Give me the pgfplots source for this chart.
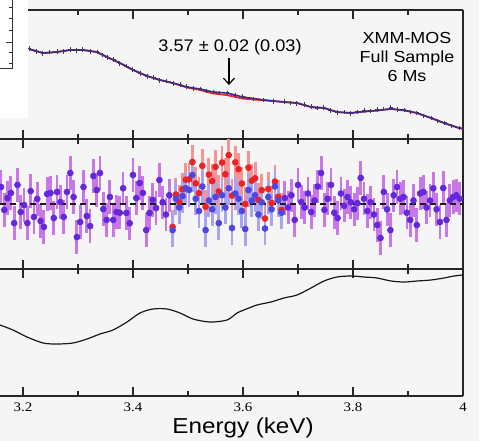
\documentclass[border=0pt]{standalone}
\usepackage{fontspec}
\setmainfont{Liberation Sans}
\newfontfamily\tickfont{Liberation Serif}
\usepackage{graphicx}
\usepackage{pgfplots}
\pgfplotsset{compat=1.18}
\usepackage{pgfplotstable}
\usetikzlibrary{arrows.meta}

\definecolor{bgcol}{HTML}{F6F5F5}
\definecolor{modblue}{HTML}{3A22A8}
\definecolor{modred}{HTML}{F0282A}
\definecolor{ptpur}{HTML}{6428DC}
\definecolor{barpur}{HTML}{C878E6}
\definecolor{ptred}{HTML}{EE2222}
\definecolor{barred}{HTML}{F49494}
\definecolor{ptblue}{HTML}{5046E0}
\definecolor{barblue}{HTML}{A8A4EE}

\newcommand{\sx}[1]{\scalebox{1.12}[1]{#1}}

% spectrum (counts/s/keV, arbitrary scale)
\pgfplotstableread{
x y
3.211 1.449
3.224 1.432
3.236 1.421
3.249 1.428
3.262 1.433
3.274 1.432
3.286 1.444
3.297 1.437
3.309 1.443
3.322 1.433
3.335 1.431
3.344 1.413
3.353 1.399
3.365 1.387
3.376 1.364
3.388 1.350
3.400 1.331
3.413 1.308
3.426 1.291
3.437 1.285
3.449 1.268
3.461 1.265
3.473 1.252
3.486 1.245
3.498 1.234
3.510 1.224
3.522 1.222
3.534 1.209
3.546 1.205
3.558 1.198
3.571 1.199
3.586 1.184
3.600 1.177
3.619 1.164
3.638 1.159
3.656 1.150
3.675 1.149
3.686 1.142
3.698 1.138
3.711 1.132
3.724 1.121
3.735 1.113
3.747 1.116
3.759 1.100
3.771 1.088
3.784 1.089
3.796 1.083
3.808 1.092
3.820 1.098
3.832 1.097
3.844 1.104
3.856 1.106
3.869 1.115
3.881 1.105
3.893 1.102
3.905 1.092
3.916 1.086
3.929 1.069
3.942 1.058
3.954 1.040
3.966 1.029
3.979 1.012
3.993 1.001
}\specdata

\pgfplotstableread{
x y
3.2109 1.4463
3.2364 1.4237
3.2618 1.4294
3.2855 1.4407
3.3091 1.4407
3.3345 1.4294
3.3527 1.4011
3.3764 1.3672
3.4000 1.3277
3.4255 1.2938
3.4491 1.2712
3.4727 1.2542
3.4982 1.2316
3.5218 1.2203
3.5455 1.2034
3.5709 1.1977
3.6000 1.1751
3.6382 1.1582
3.6745 1.1469
3.6982 1.1412
3.7236 1.1186
3.7473 1.1130
3.7709 1.0904
3.7964 1.0847
3.8200 1.0930
3.8436 1.0990
3.8691 1.1080
3.8927 1.1000
3.9164 1.0847
3.9418 1.0565
3.9655 1.0282
3.9927 1.0000
4.0000 0.9960
}\modline

\pgfplotstableread{
x y
3.2109 1.4463
3.2364 1.4237
3.2618 1.4294
3.2855 1.4407
3.3091 1.4407
3.3345 1.4294
3.3527 1.4011
3.3764 1.3672
3.4000 1.3277
3.4255 1.2938
3.4491 1.2712
3.4727 1.2535
3.4982 1.2290
3.5218 1.2150
3.5455 1.1950
3.5709 1.1860
3.6000 1.1660
3.6382 1.1565
3.6745 1.1469
3.6982 1.1412
3.7236 1.1186
3.7473 1.1130
3.7709 1.0904
3.7964 1.0847
3.8200 1.0930
3.8436 1.0990
3.8691 1.1080
3.8927 1.1000
3.9164 1.0847
3.9418 1.0565
3.9655 1.0282
3.9927 1.0000
4.0000 0.9960
}\modcont

% residuals where both models agree
\pgfplotstableread{
x y
3.160 0.97
3.166 -0.34
3.172 0.34
3.178 0.63
3.184 -1.09
3.190 1.09
3.196 -0.46
3.202 -0.06
3.208 -1.09
3.214 0.74
3.220 -0.74
3.226 0.29
3.232 -0.97
3.238 -1.31
3.244 0.57
3.250 0.63
3.256 -0.80
3.262 0.69
3.268 0.11
3.274 -0.74
3.280 0.69
3.286 1.77
3.292 0.40
3.298 -1.89
3.304 -1.03
3.310 0.97
3.316 -0.69
3.322 -1.26
3.328 1.60
3.334 0.80
3.340 1.77
3.346 -0.29
3.352 -0.91
3.358 0.40
3.364 -0.91
3.370 -0.46
3.376 -0.50
3.382 0.90
3.388 -0.51
3.394 -1.10
3.400 1.66
3.406 0.34
3.412 1.20
3.418 0.63
3.424 -1.49
3.430 -0.51
3.436 0.23
3.442 -0.23
3.448 1.37
3.454 0.10
3.460 -0.60
3.466 0.50
3.676 0.34
3.682 -0.20
3.688 0.50
3.694 -0.91
3.700 1.09
3.706 0.11
3.712 -0.20
3.718 0.60
3.724 -0.46
3.730 0.20
3.736 1.00
3.742 1.77
3.748 -0.34
3.754 0.30
3.760 1.09
3.766 -0.50
3.772 -0.80
3.778 0.60
3.784 -0.10
3.790 0.40
3.796 0.10
3.802 -0.30
3.808 0.05
3.814 1.49
3.820 0.30
3.826 -0.40
3.832 0.10
3.838 -0.60
3.844 -1.20
3.850 -1.94
3.856 0.69
3.862 -0.30
3.868 -1.49
3.874 0.50
3.880 0.97
3.886 0.30
3.892 0.40
3.898 -0.50
3.904 -0.91
3.910 0.20
3.916 -1.20
3.922 0.60
3.928 0.69
3.934 -0.20
3.940 0.20
3.946 0.90
3.952 -0.30
3.958 -1.03
3.964 0.91
3.970 -0.91
3.976 0.20
3.982 0.40
3.988 0.50
3.994 0.30
}\resboth

% residuals near 3.57 keV: with line (blue), without line (red)
\pgfplotstableread{
x blue red
3.472 -1.49 -1.31
3.478 0.30 0.54
3.484 -0.20 0.11
3.490 0.45 0.84
3.496 0.90 1.39
3.502 0.80 1.41
3.508 1.66 2.40
3.514 0.30 1.18
3.520 -0.40 0.62
3.526 1.00 2.18
3.532 -1.49 -0.16
3.538 0.20 1.68
3.544 -0.30 1.31
3.550 0.40 2.12
3.556 -1.09 0.72
3.562 0.50 2.37
3.568 -0.20 1.70
3.574 0.90 2.79
3.580 -1.37 0.48
3.586 0.60 2.38
3.592 0.30 1.99
3.598 -0.40 1.17
3.604 -1.43 0.00
3.610 0.80 2.08
3.616 0.20 1.33
3.622 0.50 1.47
3.628 -0.60 0.23
3.634 0.10 0.79
3.640 -1.40 -0.83
3.646 0.40 0.86
3.652 -0.30 0.06
3.658 1.00 1.28
3.664 0.20 0.41
3.670 -0.50 -0.34
}\resline

% effective area (arbitrary units)
\pgfplotstableread{
x y
3.1582 4.146
3.1818 3.841
3.2073 3.415
3.2364 3.049
3.2618 2.988
3.2909 3.049
3.3164 3.293
3.3400 3.598
3.3636 3.841
3.3891 4.329
3.4127 4.878
3.4364 5.122
3.4618 5.122
3.4855 4.878
3.5091 4.512
3.5400 4.329
3.5709 4.451
3.5891 4.878
3.6018 5.061
3.6255 5.366
3.6509 5.549
3.6745 5.793
3.6982 5.976
3.7236 6.402
3.7473 6.829
3.7709 7.073
3.7964 7.134
3.8200 7.073
3.8436 7.012
3.8691 6.829
3.8927 6.768
3.9164 6.829
3.9418 6.890
3.9655 7.012
3.9836 7.134
4.0000 7.195
}\effarea

\pgfplotsset{
  every non boxed y axis/.style={},
  panel/.style={
    scale only axis, width=231.5pt, anchor=south west,
    xmin=3.1582, xmax=4.0,
    axis y line=right, y axis line style={-},
    xtick={3.2,3.4,3.6,3.8,4.0}, minor xtick={3.3,3.5,3.7,3.9},
    ytick=\empty,
    tick align=inside,
    major tick length=4.5pt, minor tick length=2.4pt,
    axis line style={line width=0.7pt, black!85},
    tick style={line width=0.6pt, black!85},
  },
  resid/.style={only marks, mark=*, mark size=1.45pt,
    error bars/y dir=both, error bars/y fixed=0.95,
    error bars/error mark=none},
}

\begin{document}
\begin{tikzpicture}
\useasboundingbox (0pt,0pt) rectangle (244pt,220.5pt);
\fill[bgcol] (0pt,0pt) rectangle (239.5pt,220.5pt);

% top: spectrum
\begin{axis}[panel, at={(0pt,151pt)}, height=64.5pt,
  ymin=0.9379, ymax=1.6667, xticklabels={},
  minor ytick={1.0,1.1,1.2,1.3,1.4,1.5,1.6}]
\addplot[modred, line width=0.9pt] table[x=x,y=y] {\modcont};
\addplot[modblue, line width=0.8pt] table[x=x,y=y] {\modline};
\addplot[only marks, mark=+, mark size=1.1pt, black!75,
  mark options={line width=0.5pt}] table[x=x,y=y] {\specdata};
\node[font=\fontsize{8.4}{10}\selectfont] at (axis cs:3.5764,1.4576)
  {\scalebox{1.08}[1]{3.57 ± 0.02 (0.03)}};
\draw[-{Straight Barb[length=3pt,width=5.5pt]}, line width=0.6pt]
  (axis cs:3.5745,1.3955) -- (axis cs:3.5745,1.2429);
\node[align=center, font=\fontsize{8}{9.5}\selectfont]
  at (axis cs:3.8982,1.4011) {\sx{XMM-MOS}\\\sx{Full Sample}\\\sx{6 Ms}};
\end{axis}

% middle: residuals
\begin{axis}[panel, at={(0pt,86pt)}, height=65pt,
  ymin=-3.714, ymax=3.714, xticklabels={},
  minor ytick={-3.25,-2.25,-1.25,-0.25,0.75,1.75,2.75}]
\addplot[resid, ptpur, mark options={draw=ptpur, fill=ptpur},
  error bars/error bar style={line width=1.4pt, barpur}]
  table[x=x,y=y] {\resboth};
\addplot[resid, ptred, mark options={draw=ptred, fill=ptred},
  error bars/error bar style={line width=1.4pt, barred}]
  table[x=x,y=red] {\resline};
\addplot[resid, ptblue, mark options={draw=ptblue, fill=ptblue},
  error bars/error bar style={line width=1.4pt, barblue}]
  table[x=x,y=blue] {\resline};
\addplot[black!90, line width=0.6pt, dash pattern=on 3pt off 2pt]
  coordinates {(3.1582,0) (4.0,0)};
\end{axis}

% bottom: effective area
\begin{axis}[panel, at={(0pt,22.5pt)}, height=63.5pt,
  ymin=-0.183, ymax=7.561,
  minor ytick={0,1,2,3,4,5,6,7},
  /pgf/number format/assume math mode=true,
  xticklabel style={font=\fontsize{6.5}{7}\selectfont},
  xticklabel={\tickfont\scalebox{1.15}[1]{\pgfmathprintnumber{\tick}}},
  xlabel={\sx{Energy (keV)}},
  xlabel style={font=\fontsize{10.8}{12}\selectfont,
    at={(axis description cs:0.525,0)}, anchor=center, yshift=-16pt}]
\addplot[black!90, line width=0.6pt, smooth, tension=0.5] table[x=x,y=y] {\effarea};
\end{axis}

% corner of the neighbouring panel
\fill[white] (0pt,161.5pt) rectangle (14pt,220.5pt);
\draw[black!80, line width=0.5pt] (0pt,186.5pt) -- (6pt,186.5pt) -- (6pt,220.5pt);
\foreach \yy/\ll in {217/1.5, 211.5/1.5, 205.5/1.5, 199.5/3, 194.5/1.5, 189/1.5}
  \draw[black!80, line width=0.5pt] (6pt,\yy pt) -- ++(-\ll pt,0);
\end{tikzpicture}
\end{document}
